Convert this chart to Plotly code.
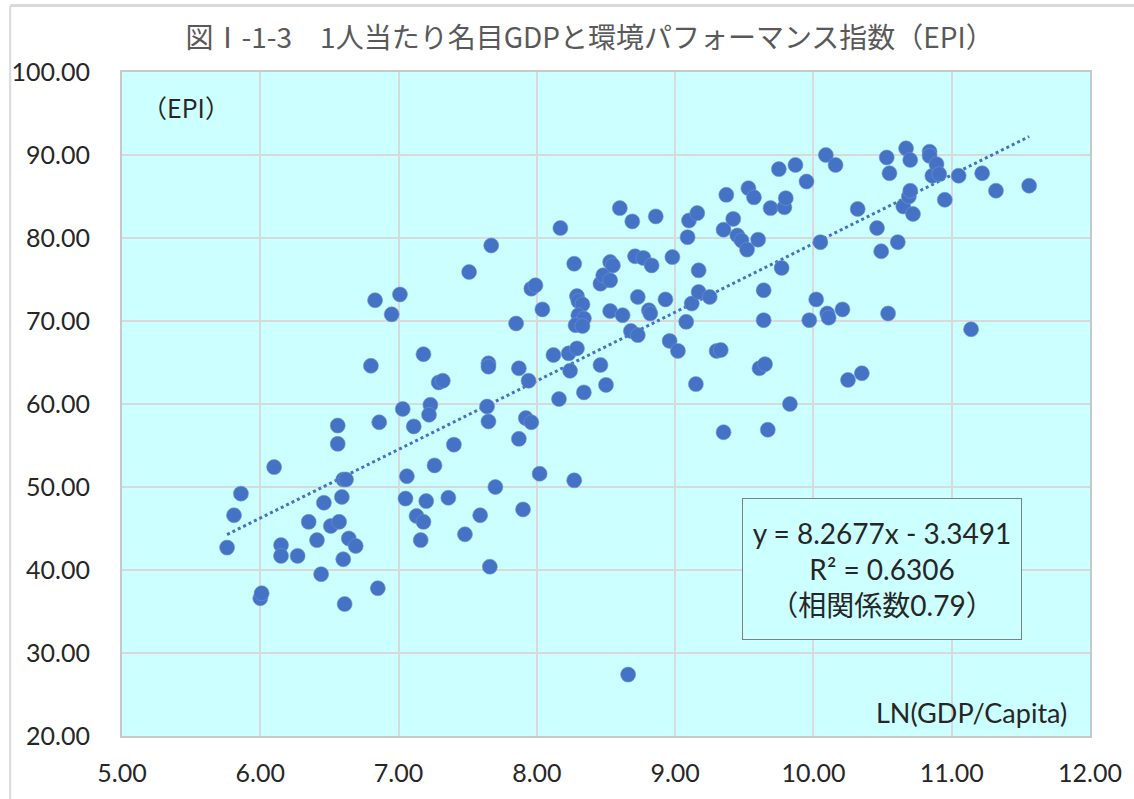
import plotly.graph_objects as go

# ---- data ----
ln_gdp = [
    5.76, 5.81, 5.86, 6.00, 6.01, 6.10, 6.15, 6.15, 6.27, 6.35,
    6.41, 6.44, 6.46, 6.51, 6.56, 6.56, 6.57, 6.59, 6.60, 6.62,
    6.60, 6.61, 6.64, 6.69, 6.80, 6.83, 6.85, 6.86, 6.95, 7.01,
    7.03, 7.06, 7.05, 7.11, 7.13, 7.18, 7.16, 7.18, 7.20, 7.23,
    7.22, 7.26, 7.29, 7.32, 7.36, 7.40, 7.48, 7.51, 7.59, 7.64,
    7.65, 7.65, 7.65, 7.66, 7.67, 7.70, 7.85, 7.87, 7.87, 7.90,
    7.92, 7.96, 7.94, 7.96, 7.99, 8.02, 8.04, 8.12, 8.16, 8.17,
    8.23, 8.24, 8.27, 8.27, 8.29, 8.29, 8.30, 8.33, 8.30, 8.34,
    8.28, 8.33, 8.34, 8.46, 8.46, 8.48, 8.50, 8.53, 8.53, 8.53,
    8.55, 8.60, 8.62, 8.66, 8.68, 8.69, 8.71, 8.73, 8.73, 8.77,
    8.81, 8.82, 8.83, 8.86, 8.93, 8.96, 8.98, 9.02, 9.08, 9.09,
    9.10, 9.12, 9.15, 9.16, 9.17, 9.17, 9.25, 9.30, 9.33, 9.35,
    9.35, 9.37, 9.42, 9.45, 9.48, 9.52, 9.53, 9.57, 9.60, 9.61,
    9.64, 9.64, 9.65, 9.67, 9.69, 9.75, 9.77, 9.79, 9.80, 9.83,
    9.87, 9.95, 9.97, 10.02, 10.05, 10.09, 10.10, 10.11, 10.16, 10.21,
    10.25, 10.32, 10.35, 10.46, 10.49, 10.53, 10.54, 10.55, 10.61, 10.65,
    10.67, 10.69, 10.70, 10.70, 10.72, 10.84, 10.84, 10.86, 10.89, 10.91,
    10.95, 11.05, 11.14, 11.22, 11.32, 11.56,
]
epi = [
    42.7, 46.6, 49.2, 36.6, 37.2, 52.4, 43.0, 41.7, 41.7, 45.8,
    43.6, 39.5, 48.1, 45.3, 57.4, 55.2, 45.8, 48.8, 50.9, 50.9,
    41.3, 35.9, 43.8, 42.9, 64.6, 72.5, 37.8, 57.8, 70.8, 73.2,
    59.4, 51.3, 48.6, 57.3, 46.5, 66.0, 43.6, 45.8, 48.3, 59.9,
    58.7, 52.6, 62.6, 62.8, 48.7, 55.1, 44.3, 75.9, 46.6, 59.7,
    57.9, 64.9, 64.5, 40.4, 79.1, 50.0, 69.7, 64.3, 55.8, 47.3,
    58.3, 57.8, 62.8, 73.9, 74.3, 51.6, 71.4, 65.9, 60.6, 81.2,
    66.1, 64.0, 76.9, 50.8, 66.7, 73.0, 72.4, 72.0, 70.7, 70.3,
    69.5, 69.4, 61.4, 64.7, 74.5, 75.5, 62.3, 74.9, 71.2, 77.1,
    76.7, 83.6, 70.7, 27.4, 68.8, 82.0, 77.8, 72.9, 68.3, 77.6,
    71.3, 70.9, 76.7, 82.6, 72.6, 67.6, 77.7, 66.4, 69.9, 80.1,
    82.1, 72.1, 62.4, 83.0, 76.1, 73.5, 72.9, 66.4, 66.5, 81.0,
    56.6, 85.2, 82.3, 80.3, 79.7, 78.6, 86.0, 84.9, 79.8, 64.3,
    73.7, 70.1, 64.8, 56.9, 83.6, 88.3, 76.4, 83.7, 84.8, 60.0,
    88.8, 86.8, 70.1, 72.6, 79.5, 90.0, 70.9, 70.4, 88.8, 71.4,
    62.9, 83.5, 63.7, 81.2, 78.4, 89.7, 70.9, 87.8, 79.5, 83.8,
    90.8, 85.0, 85.7, 89.4, 82.9, 90.4, 89.9, 87.5, 88.9, 87.7,
    84.6, 87.5, 69.0, 87.8, 85.7, 86.3,
]

slope = 8.2677
intercept = -3.3491
r_squared = 0.6306
corr = 0.79

title_text = "図Ⅰ-1-3　1人当たり名目GDPと環境パフォーマンス指数（EPI）"
y_label = "（EPI）"
x_label = "LN(GDP/Capita)"

BLUE = "#4472C4"
BG = "#CCFFFF"
GRID = "#D9D9D9"
TXT = "#262626"
LATIN = "Lato, 'Noto Sans CJK JP', sans-serif"
CJK = "'Noto Sans CJK JP', sans-serif"

fig = go.Figure()

# trend line (linear fit given in chart)
x0, x1 = min(ln_gdp), max(ln_gdp)
fig.add_trace(go.Scatter(
    x=[x0, x1], y=[slope * x0 + intercept, slope * x1 + intercept],
    mode="lines", line=dict(color=BLUE, width=3, dash="dot"),
    hoverinfo="skip", showlegend=False,
))

fig.add_trace(go.Scatter(
    x=ln_gdp, y=epi, mode="markers",
    marker=dict(color=BLUE, size=15, line=dict(width=0.6, color="#6f93d6")),
    showlegend=False,
))

fig.update_layout(
    width=1134, height=799,
    margin=dict(l=119, r=42, t=72, b=60),
    paper_bgcolor="white",
    plot_bgcolor=BG,
    font=dict(family=LATIN, size=25, color=TXT),
    title=dict(
        text=title_text, x=0.52, xanchor="center", y=0.952, yanchor="middle",
        font=dict(family=CJK, size=28, color="#595959"),
    ),
)

fig.update_xaxes(
    range=[5, 12], dtick=1, tick0=5, tickformat=".2f",
    showgrid=True, gridcolor=GRID, gridwidth=2,
    showline=True, linecolor="#C8C8C8", linewidth=2, mirror=True,
    zeroline=False, ticks="", ticklabelstandoff=14,
    tickfont=dict(family=LATIN, size=25, color=TXT),
)
fig.update_yaxes(
    range=[20, 100], dtick=10, tick0=20, tickformat=".2f",
    showgrid=True, gridcolor=GRID, gridwidth=2,
    showline=True, linecolor="#C8C8C8", linewidth=2, mirror=True,
    zeroline=False, ticks="", ticklabelstandoff=25,
    tickfont=dict(family=LATIN, size=25, color=TXT),
)

# axis captions inside plot
fig.add_annotation(
    text=y_label, xref="paper", yref="paper", x=0.0185, y=0.9475,
    xanchor="left", yanchor="middle", showarrow=False,
    font=dict(family=CJK, size=25, color=TXT),
)
fig.add_annotation(
    text=x_label, xref="paper", yref="paper", x=0.978, y=0.036,
    xanchor="right", yanchor="middle", showarrow=False,
    font=dict(family=LATIN, size=27, color=TXT),
)

# equation box
fig.add_annotation(
    text=(f"y = {slope:.4f}x - {abs(intercept):.4f}<br>"
          f"R² = {r_squared:.4f}<br>"
          f"（相関係数{corr:.2f}）"),
    xref="paper", yref="paper", x=0.785, y=0.251,
    xanchor="center", yanchor="middle", showarrow=False,
    align="center", bgcolor=BG, bordercolor="#7F7F7F", borderwidth=1,
    borderpad=6, width=266, height=128,
    font=dict(family=LATIN, size=28, color=TXT),
)

# outer chart border (top & left visible)
fig.add_shape(type="line", xref="paper", yref="paper",
              x0=-0.115, x1=1.05, y0=1.1, y1=1.1,
              line=dict(color="#D9D9D9", width=3), layer="below")
fig.add_shape(type="line", xref="paper", yref="paper",
              x0=-0.1155, x1=-0.1155, y0=-0.1, y1=1.1,
              line=dict(color="#D9D9D9", width=2), layer="below")

fig.write_html("out.html")
